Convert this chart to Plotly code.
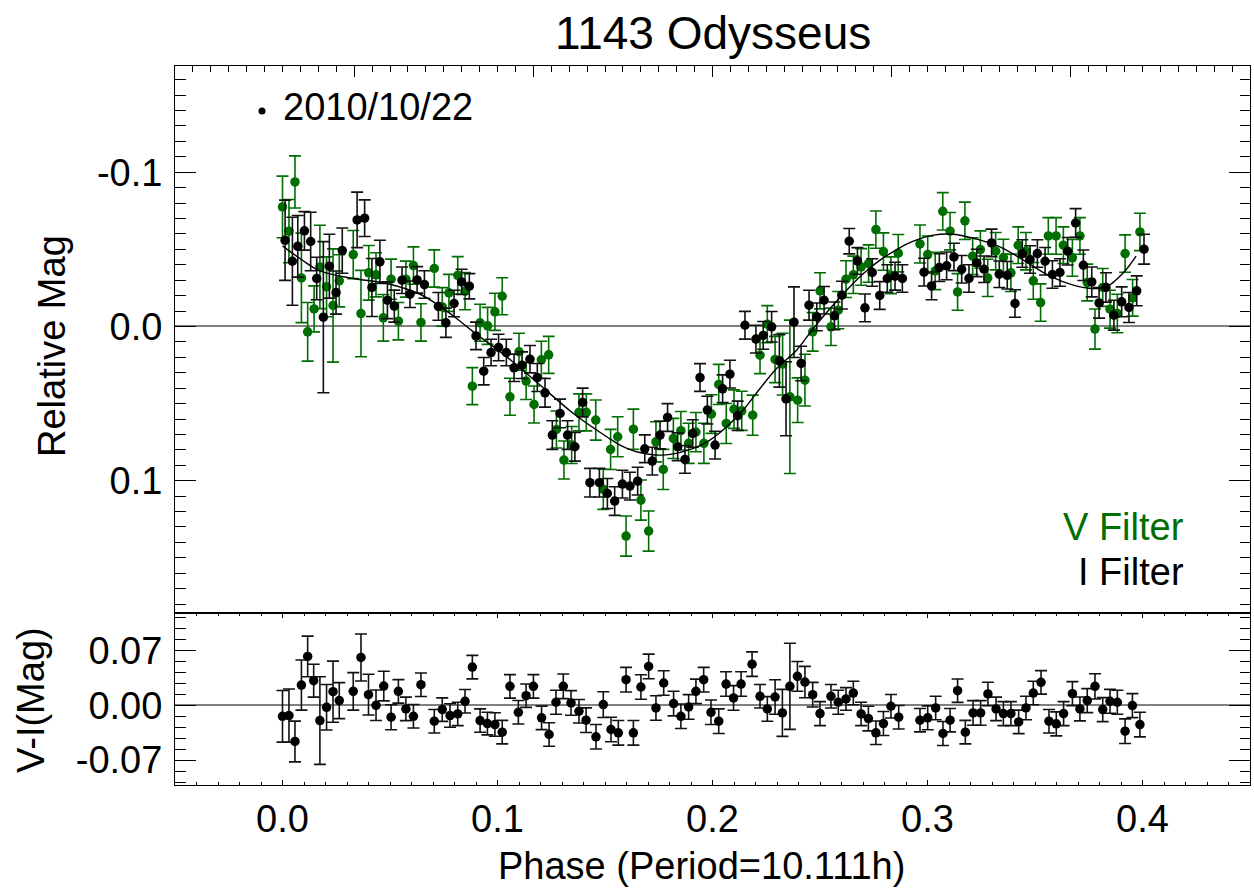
import plotly.graph_objects as go

# ---------------- data ----------------
# V filter (green): phase, relative mag, error
v_phase = [0.0000, 0.0030, 0.0058, 0.0088, 0.0117, 0.0147, 0.0174, 0.0205, 0.0235, 0.0264,
           0.0329, 0.0365, 0.0401, 0.0435, 0.0469, 0.0505, 0.0539, 0.0574, 0.0609, 0.0644,
           0.0706, 0.0743, 0.0774, 0.0815, 0.0849, 0.0883, 0.0919, 0.0954, 0.0988, 0.1022,
           0.1058, 0.1100, 0.1133, 0.1170, 0.1204, 0.1238, 0.1274, 0.1309, 0.1345, 0.1379,
           0.1413, 0.1457, 0.1492, 0.1526, 0.1559, 0.1598, 0.1632, 0.1667, 0.1703, 0.1737,
           0.1771, 0.1818, 0.1853, 0.1889, 0.1923, 0.1960, 0.1995, 0.2029, 0.2064, 0.2100,
           0.2136, 0.2187, 0.2221, 0.2255, 0.2291, 0.2326, 0.2360, 0.2396, 0.2430, 0.2466,
           0.2500, 0.2551, 0.2585, 0.2621, 0.2655, 0.2691, 0.2726, 0.2760, 0.2795, 0.2830,
           0.2864, 0.2965, 0.3001, 0.3036, 0.3071, 0.3105, 0.3140, 0.3174, 0.3210, 0.3246,
           0.3280, 0.3317, 0.3353, 0.3388, 0.3422, 0.3458, 0.3492, 0.3526, 0.3562, 0.3598,
           0.3632, 0.3674, 0.3709, 0.3743, 0.3779, 0.3815, 0.3849, 0.3883, 0.3919, 0.3954,
           0.3988]
v_mag = [-0.0775, -0.0618, -0.0937, -0.0315, 0.0035, -0.0114, -0.0386, -0.0257, -0.0136, -0.0296,
         -0.0466, -0.0084, -0.0348, -0.0335, -0.0056, -0.0307, -0.0034, -0.0307, -0.0395, -0.0026,
         -0.0376, -0.0127, -0.0218, -0.0332, -0.0229, 0.0387, -0.0024, -0.0004, -0.0095, -0.0196,
         0.0456, 0.0164, 0.0354, 0.0506, 0.0216, 0.0184, 0.0668, 0.0866, 0.0769, 0.0557,
         0.0557, 0.0607, 0.1056, 0.0797, 0.0715, 0.1359, 0.0666, 0.1126, 0.1327, 0.0748,
         0.0927, 0.0726, 0.0676, 0.0758, 0.0685, 0.0758, 0.0568, 0.0376, 0.0629, 0.0536,
         0.0547, 0.0575, 0.0186, -0.0015, 0.0214, 0.0244, 0.0456, 0.0478, 0.0348, 0.0035,
         -0.0231, 0.0002, -0.0106, -0.0307, -0.0335, -0.0386, -0.0408, -0.0628, -0.0486, -0.0332,
         -0.0475, -0.0535, -0.0466, -0.0360, -0.0747, -0.0618, -0.0224, -0.0685, -0.0456, -0.0499,
         -0.0315, -0.0488, -0.0447, -0.0348, -0.0527, -0.0488, -0.0296, -0.0155, -0.0587, -0.0587,
         -0.0527, -0.0445, -0.0587, -0.0285, 0.0017, -0.0253, -0.0112, -0.0084, -0.0473, -0.0186,
         -0.0613]
v_err = [0.020, 0.0205, 0.0169, 0.029, 0.019, 0.0149, 0.027, 0.0194, 0.0367, 0.0169,
         0.0156, 0.028, 0.0177, 0.0143, 0.0151, 0.013, 0.0121, 0.0117, 0.0121, 0.0121,
         0.0121, 0.0125, 0.012, 0.0121, 0.0121, 0.012, 0.012, 0.012, 0.012, 0.012,
         0.012, 0.012, 0.012, 0.012, 0.012, 0.012, 0.012, 0.0123, 0.012, 0.012,
         0.012, 0.013, 0.013, 0.013, 0.013, 0.013, 0.013, 0.013, 0.013, 0.013,
         0.013, 0.013, 0.0125, 0.013, 0.0127, 0.013, 0.0125, 0.013, 0.013, 0.0125,
         0.0127, 0.013, 0.012, 0.012, 0.015, 0.020, 0.0497, 0.0145, 0.0168, 0.0125,
         0.0117, 0.0121, 0.0121, 0.0119, 0.0121, 0.0119, 0.0121, 0.0121, 0.0121, 0.0119,
         0.0121, 0.0123, 0.0121, 0.0121, 0.0121, 0.0121, 0.0119, 0.0121, 0.0119, 0.0121,
         0.0121, 0.0121, 0.0119, 0.0121, 0.0119, 0.0121, 0.0119, 0.0121, 0.0119, 0.0119,
         0.0119, 0.0119, 0.0119, 0.0119, 0.013, 0.0123, 0.0123, 0.0125, 0.0121, 0.0119,
         0.0121]

# I filter (black): phase, relative mag, error
i_phase = [0.0012, 0.0046, 0.0071, 0.0102, 0.0131, 0.0159, 0.0190, 0.0218, 0.0249, 0.0278,
           0.0347, 0.0382, 0.0416, 0.0453, 0.0488, 0.0520, 0.0556, 0.0593, 0.0626, 0.0660,
           0.0725, 0.0760, 0.0798, 0.0833, 0.0869, 0.0900, 0.0936, 0.0970, 0.1005, 0.1041,
           0.1077, 0.1114, 0.1151, 0.1185, 0.1221, 0.1255, 0.1291, 0.1326, 0.1360, 0.1396,
           0.1430, 0.1474, 0.1511, 0.1545, 0.1581, 0.1616, 0.1652, 0.1685, 0.1720, 0.1756,
           0.1791, 0.1838, 0.1872, 0.1908, 0.1942, 0.1976, 0.2012, 0.2047, 0.2081, 0.2117,
           0.2151, 0.2202, 0.2236, 0.2275, 0.2311, 0.2342, 0.2379, 0.2412, 0.2449, 0.2485,
           0.2519, 0.2567, 0.2602, 0.2636, 0.2674, 0.2709, 0.2743, 0.2778, 0.2813, 0.2849,
           0.2883, 0.2984, 0.3019, 0.3055, 0.3089, 0.3123, 0.3159, 0.3193, 0.3229, 0.3263,
           0.3298, 0.3334, 0.3371, 0.3407, 0.3441, 0.3477, 0.3511, 0.3547, 0.3581, 0.3616,
           0.3652, 0.3689, 0.3725, 0.3764, 0.3798, 0.3830, 0.3867, 0.3903, 0.3937, 0.3973,
           0.4007]
i_mag = [-0.0559, -0.0423, -0.0520, -0.0620, -0.0551, -0.0311, -0.0060, -0.0391, -0.0220, -0.0492,
         -0.0691, -0.0702, -0.0253, -0.0419, -0.0170, -0.0132, -0.0300, -0.0209, -0.0302, -0.0272,
         -0.0130, -0.0024, -0.0149, -0.0289, -0.0261, 0.0061, 0.0290, 0.0169, 0.0136, 0.0169,
         0.0268, 0.0251, 0.0212, 0.0331, 0.0430, 0.0704, 0.0564, 0.0704, 0.0780, 0.0493,
         0.1013, 0.1013, 0.1083, 0.1132, 0.1022, 0.1035, 0.1003, 0.0793, 0.0873, 0.0704,
         0.0590, 0.0780, 0.0862, 0.0694, 0.0331, 0.0542, 0.0769, 0.0404, 0.0309, 0.0579,
         -0.0008, 0.0082, 0.0058, 0.0002, 0.0223, 0.0469, -0.0028, 0.0240, -0.0138, -0.0062,
         -0.0170, -0.0069, -0.0203, -0.0553, -0.0425, -0.0121, -0.0350, -0.0201, -0.0311, -0.0326,
         -0.0311, -0.0352, -0.0263, -0.0382, -0.0393, -0.0451, -0.0371, -0.0311, -0.0412, -0.0371,
         -0.0542, -0.0339, -0.0332, -0.0149, -0.0473, -0.0434, -0.0473, -0.0423, -0.0337, -0.0350,
         -0.0488, -0.0671, -0.0397, -0.0289, -0.0153, -0.0253, -0.0073, -0.0160, -0.0123, -0.0231,
         -0.0501]
i_err = [0.026, 0.0285, 0.020, 0.0125, 0.019, 0.0138, 0.049, 0.0207, 0.014, 0.0147,
         0.018, 0.0119, 0.0188, 0.014, 0.0119, 0.0104, 0.0086, 0.0086, 0.0086, 0.0089,
         0.009, 0.0095, 0.0086, 0.0082, 0.0082, 0.0089, 0.0089, 0.0086, 0.0086, 0.0086,
         0.0089, 0.0086, 0.0089, 0.0091, 0.0093, 0.0093, 0.0093, 0.0093, 0.0093, 0.0093,
         0.0093, 0.0093, 0.0097, 0.0093, 0.009, 0.009, 0.009, 0.009, 0.009, 0.009,
         0.009, 0.009, 0.009, 0.0089, 0.009, 0.009, 0.009, 0.009, 0.009, 0.0095,
         0.009, 0.009, 0.009, 0.0099, 0.017, 0.024, 0.0229, 0.0112, 0.0097, 0.009,
         0.0089, 0.009, 0.009, 0.0082, 0.0086, 0.009, 0.0089, 0.009, 0.0089, 0.009,
         0.0089, 0.009, 0.009, 0.009, 0.009, 0.0089, 0.0089, 0.0089, 0.0089, 0.0086,
         0.0089, 0.0086, 0.0089, 0.0089, 0.0089, 0.0089, 0.0089, 0.0089, 0.0089, 0.0089,
         0.0089, 0.0093, 0.0099, 0.0097, 0.0099, 0.0095, 0.0097, 0.0097, 0.0097, 0.0097,
         0.0097]

# Fourier fit curve
fit_phase = [0.0000, 0.0088, 0.0174, 0.0329, 0.0485, 0.0640, 0.0733, 0.0810, 0.0888, 0.1043,
             0.1198, 0.1353, 0.1508, 0.1570, 0.1647, 0.1771, 0.1911, 0.1988, 0.2066, 0.2143,
             0.2221, 0.2298, 0.2391, 0.2469, 0.2547, 0.2624, 0.2702, 0.2779, 0.2857, 0.2934,
             0.3027, 0.3120, 0.3229, 0.3337, 0.3446, 0.3570, 0.3678, 0.3771, 0.3833, 0.3911,
             0.3970]
fit_mag = [-0.0523, -0.0434, -0.0360, -0.0311, -0.0279, -0.0209, -0.0130, -0.0052, 0.0035, 0.0197,
           0.0380, 0.0564, 0.0715, 0.0769, 0.0812, 0.0834, 0.0791, 0.0737, 0.0650, 0.0542,
           0.0402, 0.0272, 0.0154, 0.0013, -0.0116, -0.0235, -0.0343, -0.0430, -0.0499, -0.0553,
           -0.0592, -0.0598, -0.0566, -0.0516, -0.0430, -0.0326, -0.0268, -0.0246, -0.0257, -0.0348,
           -0.0456]

# V-I colour index: phase, value, error
vi_phase = [0.0000, 0.0030, 0.0058, 0.0088, 0.0117, 0.0145, 0.0174, 0.0205, 0.0235, 0.0264,
            0.0329, 0.0365, 0.0400, 0.0435, 0.0471, 0.0505, 0.0539, 0.0574, 0.0609, 0.0644,
            0.0706, 0.0743, 0.0779, 0.0815, 0.0849, 0.0883, 0.0919, 0.0953, 0.0988, 0.1022,
            0.1058, 0.1097, 0.1133, 0.1167, 0.1205, 0.1240, 0.1272, 0.1306, 0.1342, 0.1379,
            0.1412, 0.1458, 0.1492, 0.1528, 0.1562, 0.1598, 0.1632, 0.1667, 0.1703, 0.1737,
            0.1773, 0.1819, 0.1853, 0.1889, 0.1923, 0.1959, 0.1993, 0.2029, 0.2063, 0.2098,
            0.2133, 0.2184, 0.2221, 0.2255, 0.2291, 0.2325, 0.2360, 0.2395, 0.2430, 0.2466,
            0.2500, 0.2551, 0.2585, 0.2621, 0.2655, 0.2691, 0.2725, 0.2760, 0.2795, 0.2830,
            0.2866, 0.2965, 0.3001, 0.3038, 0.3072, 0.3105, 0.3140, 0.3176, 0.3212, 0.3247,
            0.3281, 0.3319, 0.3353, 0.3388, 0.3424, 0.3458, 0.3492, 0.3528, 0.3565, 0.3599,
            0.3633, 0.3674, 0.3709, 0.3743, 0.3779, 0.3815, 0.3849, 0.3883, 0.3919, 0.3953,
            0.3988]
vi_val = [-0.0140, -0.0131, -0.0462, 0.0259, 0.0624, 0.0314, -0.0195, -0.0025, 0.0174, 0.0060,
          0.0178, 0.0611, 0.0136, 0.0000, 0.0246, -0.0152, 0.0178, -0.0046, -0.0140, 0.0263,
          -0.0203, -0.0055, -0.0131, -0.0110, 0.0051, 0.0488, -0.0195, -0.0233, -0.0246, -0.0343,
          0.0242, -0.0089, 0.0123, 0.0242, -0.0160, -0.0373, 0.0039, 0.0242, 0.0030, -0.0076,
          -0.0190, -0.0402, 0.0009, -0.0309, -0.0351, 0.0327, -0.0351, 0.0234, 0.0497, -0.0034,
          0.0285, 0.0022, -0.0140, -0.0021, 0.0178, 0.0327, -0.0089, -0.0203, 0.0272, 0.0094,
          0.0272, 0.0526, 0.0115, -0.0046, 0.0106, -0.0097, 0.0242, 0.0370, 0.0297, 0.0136,
          -0.0106, 0.0115, 0.0039, 0.0081, 0.0157, -0.0110, -0.0169, -0.0351, -0.0233, -0.0012,
          -0.0152, -0.0190, -0.0160, -0.0034, -0.0360, -0.0190, 0.0187, -0.0343, -0.0097, -0.0097,
          0.0145, -0.0046, -0.0106, -0.0106, -0.0212, -0.0034, 0.0157, 0.0293, -0.0203, -0.0237,
          -0.0106, 0.0149, -0.0046, 0.0060, 0.0242, -0.0055, 0.0051, 0.0039, -0.0330, -0.0004,
          -0.0246]
vi_err = [0.033, 0.034, 0.026, 0.032, 0.026, 0.021, 0.056, 0.029, 0.039, 0.023,
          0.024, 0.030, 0.026, 0.0195, 0.019, 0.016, 0.015, 0.015, 0.015, 0.015,
          0.015, 0.015, 0.015, 0.015, 0.015, 0.015, 0.015, 0.0145, 0.015, 0.015,
          0.015, 0.015, 0.015, 0.015, 0.015, 0.015, 0.0153, 0.0157, 0.0157, 0.015,
          0.0157, 0.0157, 0.0165, 0.0157, 0.0157, 0.0157, 0.0157, 0.0157, 0.0157, 0.0157,
          0.0157, 0.0157, 0.0157, 0.0157, 0.0157, 0.0157, 0.0157, 0.0157, 0.0157, 0.0157,
          0.0157, 0.0157, 0.015, 0.0157, 0.022, 0.030, 0.055, 0.019, 0.020, 0.0157,
          0.0153, 0.015, 0.0153, 0.0145, 0.015, 0.015, 0.0157, 0.015, 0.0153, 0.015,
          0.015, 0.015, 0.0153, 0.015, 0.0153, 0.015, 0.015, 0.015, 0.0157, 0.0157,
          0.015, 0.015, 0.0153, 0.0153, 0.015, 0.015, 0.015, 0.015, 0.015, 0.0153,
          0.0153, 0.0153, 0.0153, 0.0153, 0.0161, 0.0153, 0.0153, 0.0153, 0.0157, 0.0153,
          0.0157]

title_text = "1143 Odysseus"
date_label = "2010/10/22"
x_title = "Phase (Period=10.111h)"
y_title_top = "Relative Mag"
y_title_bot = "V-I(Mag)"

# ---------------- style ----------------
GREEN = "rgb(0,110,0)"
BLACK = "black"
FONT = "Liberation Sans, Arial, Helvetica, sans-serif"
FS = 38
MS = 9.5

fig = go.Figure()

fig.add_trace(go.Scatter(
    x=v_phase, y=v_mag, mode="markers", xaxis="x2", yaxis="y2",
    marker=dict(color=GREEN, size=MS),
    error_y=dict(type="data", array=v_err, color=GREEN, thickness=1.6, width=6),
    showlegend=False))
fig.add_trace(go.Scatter(
    x=i_phase, y=i_mag, mode="markers", xaxis="x2", yaxis="y2",
    marker=dict(color=BLACK, size=MS),
    error_y=dict(type="data", array=i_err, color="#111111", thickness=1.6, width=6),
    showlegend=False))
fig.add_trace(go.Scatter(
    x=fit_phase, y=fit_mag, mode="lines", xaxis="x2", yaxis="y2",
    line=dict(color=BLACK, width=1.4, shape="spline"), showlegend=False))
fig.add_trace(go.Scatter(
    x=vi_phase, y=vi_val, mode="markers", xaxis="x", yaxis="y",
    marker=dict(color=BLACK, size=MS),
    error_y=dict(type="data", array=vi_err, color="#111111", thickness=1.6, width=6),
    showlegend=False))

# geometry of the plot box (pixels)
W, H = 1254, 890
L, R, T, B = 175, 4, 66, 105
plot_w = W - L - R
plot_h = H - T - B
split = 612.7
bot_frac = (H - B - split) / plot_h


def px_x(px):
    return (px - L) / plot_w


def px_y(py):
    return (H - B - py) / plot_h


axis_common = dict(showline=True, linecolor="black", linewidth=1, showgrid=False,
                   ticks="inside", tickcolor="black", tickwidth=1,
                   tickfont=dict(family=FONT, size=FS, color="black"))

fig.update_layout(
    width=W, height=H,
    margin=dict(l=L, r=R, t=T, b=B, pad=0),
    paper_bgcolor="white", plot_bgcolor="white",
    font=dict(family=FONT, size=FS, color="black"),
    xaxis=dict(domain=[0, 1], anchor="y", range=[-0.05, 0.45],
               tickmode="linear", tick0=0, dtick=0.1, tickformat=".1f",
               ticklen=5, mirror="allticks", zeroline=False,
               minor=dict(tick0=0, dtick=0.01, ticks="inside", ticklen=3, tickcolor="black"),
               **axis_common),
    xaxis2=dict(domain=[0, 1], anchor="y2", range=[-0.05, 0.45], side="top",
                tickmode="linear", tick0=-0.05, dtick=0.5 / 6, showticklabels=False,
                ticklen=11, mirror=True, zeroline=False,
                minor=dict(tick0=-0.05, dtick=0.5 / 60, ticks="inside", ticklen=5.5, tickcolor="black"),
                **axis_common),
    yaxis=dict(domain=[0, bot_frac], anchor="x", range=[-0.1018, 0.1183],
               tickmode="array", tickvals=[-0.07, 0.0, 0.07], ticktext=["-0.07", "0.00", "0.07"],
               ticklen=21, mirror="allticks", ticklabelstandoff=4,
               zeroline=True, zerolinecolor="#808080", zerolinewidth=1.5,
               minor=dict(tick0=0, dtick=0.014, ticks="inside", ticklen=10.5, tickcolor="black"),
               **axis_common),
    yaxis2=dict(domain=[bot_frac, 1], anchor="x2", range=[0.1856, -0.1689],
                tickmode="array", tickvals=[-0.1, 0.0, 0.1], ticktext=["-0.1", "0.0", "0.1"],
                ticklen=21, mirror="allticks", ticklabelstandoff=4,
                zeroline=True, zerolinecolor="#808080", zerolinewidth=1.5,
                minor=dict(tick0=0, dtick=0.01, ticks="inside", ticklen=10.5, tickcolor="black"),
                **axis_common),
)

ann = [
    dict(text=title_text, x=px_x(713), y=px_y(33), font=dict(size=46)),
    dict(text=x_title, x=px_x(701), y=px_y(866), font=dict(size=FS)),
    dict(text=y_title_top, x=px_x(52), y=px_y(346), textangle=-90, font=dict(size=FS)),
    dict(text=y_title_bot, x=px_x(31), y=px_y(700), textangle=-90, font=dict(size=FS)),
]
for a in ann:
    a.update(xref="paper", yref="paper", showarrow=False, xanchor="center", yanchor="middle")
    a["font"].update(family=FONT, color="black")
fig.add_annotation(text=date_label, xref="paper", yref="paper", x=px_x(281), y=px_y(107),
                   xanchor="left", yanchor="middle", showarrow=False,
                   font=dict(family=FONT, size=FS, color="black"))
fig.add_annotation(text="V Filter", xref="paper", yref="paper", x=px_x(1186), y=px_y(527),
                   xanchor="right", yanchor="middle", showarrow=False,
                   font=dict(family=FONT, size=FS, color=GREEN))
fig.add_annotation(text="I Filter", xref="paper", yref="paper", x=px_x(1186), y=px_y(572),
                   xanchor="right", yanchor="middle", showarrow=False,
                   font=dict(family=FONT, size=FS, color="black"))
for a in ann:
    fig.add_annotation(**a)

# legend dot next to the date
fig.add_shape(type="circle", xref="paper", yref="paper",
              x0=px_x(258.5), x1=px_x(265.5), y0=px_y(114.5), y1=px_y(107.5),
              fillcolor="black", line=dict(color="black", width=0))

# remove the browser's default page margin so the figure sits at the window origin
fig.write_html("out.html", config={"displayModeBar": False},
               post_script="document.body.style.margin='0';document.body.style.overflow='hidden';")
